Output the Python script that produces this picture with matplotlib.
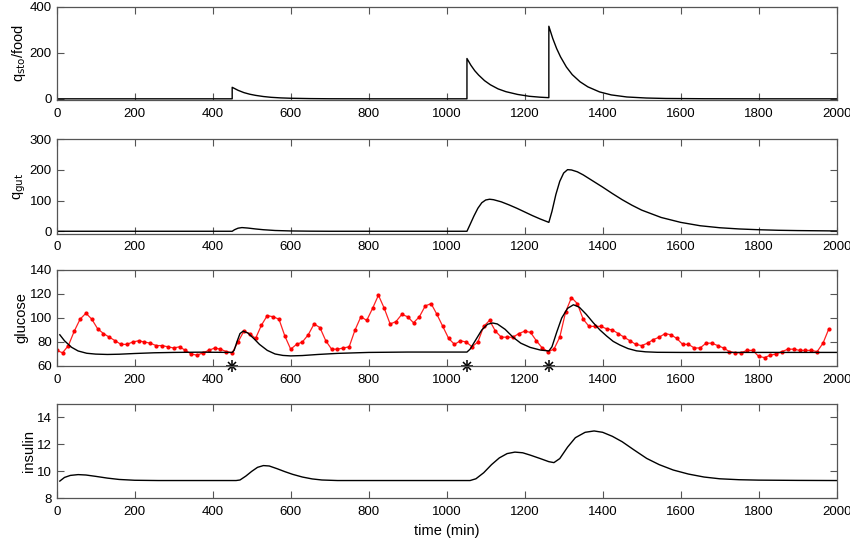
import matplotlib
matplotlib.use("Agg")
import matplotlib.pyplot as plt
import numpy as np

plt.rcParams['font.family'] = ['Liberation Sans', 'DejaVu Sans']

# meal times (min)
meals = [450, 1052, 1262]

# stomach content / food
sto_t = [0, 450, 450, 465, 480, 495, 510, 530, 550, 575, 600, 650, 700, 800,
         1052, 1052, 1062, 1072, 1082, 1097, 1112, 1132, 1152, 1182, 1212, 1240,
         1262, 1262, 1272, 1282, 1292, 1307, 1322, 1342, 1362, 1392, 1422, 1462,
         1512, 1562, 1662, 1800, 2000]
sto_v = [0, 0, 50, 37, 27, 20, 15, 10, 6.5, 4, 2.5, 1, 0.3, 0,
         0, 175, 146, 122, 103, 79, 61, 43, 31, 19, 11, 7,
         5, 315, 262, 218, 182, 138, 105, 74, 52, 30, 17, 8,
         3.5, 1.5, 0.4, 0, 0]

# gut content
gut_t = [0, 450, 456, 465, 475, 490, 510, 530, 560, 600, 650, 700,
         1052, 1060, 1070, 1080, 1090, 1100, 1110, 1120, 1140, 1160, 1180, 1200,
         1220, 1240, 1262, 1270, 1280, 1290, 1300, 1310, 1320, 1335, 1350, 1375,
         1400, 1425, 1450, 1475, 1500, 1550, 1600, 1650, 1700, 1750, 1800, 1850,
         1900, 2000]
gut_v = [0, 0, 5, 10, 12, 10.5, 7.5, 5, 2.5, 1, 0.3, 0,
         0, 22, 50, 75, 93, 102, 104.5, 103, 96, 86, 75, 63,
         51, 40, 29, 65, 120, 163, 190, 201, 200, 194, 184, 164,
         144, 123, 103, 85, 69, 45, 29, 18, 11.5, 7.5, 5, 3.2,
         2.2, 1]

# measured glucose, every 15 min
glu_meas_t = np.arange(0, 1981, 15)
glu_meas = [73, 71, 77, 89, 99, 104, 99, 91, 87, 84,
            81, 78, 78, 80, 81, 80, 79, 77, 77, 76,
            75, 76, 73, 70, 69, 71, 73, 75, 74, 72,
            71, 80, 89, 87, 83, 94, 102, 101, 99, 85,
            74, 78, 80, 86, 95, 92, 81, 74, 74, 75,
            76, 90, 101, 98, 108, 119, 108, 95, 97, 103,
            101, 96, 101, 110, 112, 103, 93, 83, 78, 81,
            80, 76, 80, 93, 98, 89, 84, 84, 84, 87,
            89, 88, 81, 75, 72, 74, 84, 105, 117, 112,
            99, 93, 93, 93, 91, 90, 87, 84, 81, 78,
            77, 79, 82, 84, 87, 86, 83, 78, 78, 75,
            75, 79, 79, 77, 75, 72, 71, 71, 73, 73,
            68, 67, 69, 70, 72, 74, 74, 73, 73, 73,
            72, 79, 91]

# model glucose
glu_t = [8, 20, 38, 55, 77, 100, 130, 160, 200, 250, 300, 367, 450, 455, 462,
         470, 478, 490, 505, 520, 540, 560, 580, 600, 630, 670, 720, 800, 900,
         1052, 1060, 1075, 1090, 1105, 1118, 1130, 1150, 1170, 1190, 1214, 1240,
         1262, 1270, 1282, 1295, 1310, 1325, 1340, 1358, 1376, 1393, 1410, 1427,
         1444, 1465, 1487, 1510, 1540, 1600, 2000]
glu_v = [86, 81, 75.6, 72.5, 70.6, 69.9, 69.6, 69.8, 70.4, 71, 71.3, 71.5, 71.3, 73, 80,
         87, 89, 87.5, 83, 78, 73, 70, 68.8, 68.4, 68.7, 69.6, 70.5, 71.3, 71.6,
         71.6, 74, 82, 90, 94.8, 95.8, 95, 90.5, 84, 79, 75.5, 73.3,
         72.5, 76, 88, 100, 108, 111, 109, 103, 96, 90, 85, 80.5,
         77.5, 74.5, 72.6, 71.8, 71.4, 71.3, 71.3]

# model insulin
ins_t = [8, 20, 35, 55, 75, 100, 130, 160, 200, 260, 460, 470, 485, 500, 515,
         530, 545, 565, 585, 605, 630, 655, 680, 720, 1060, 1075, 1095, 1115,
         1135, 1155, 1175, 1195, 1215, 1240, 1262, 1275, 1290, 1310, 1330, 1355,
         1378, 1400, 1425, 1450, 1480, 1513, 1545, 1581, 1620, 1660, 1700, 1750,
         1800, 1900, 2000]
ins_v = [9.28, 9.55, 9.7, 9.76, 9.73, 9.63, 9.5, 9.4, 9.34, 9.32, 9.32, 9.36, 9.65, 10.0, 10.3,
         10.43, 10.4, 10.2, 9.98, 9.78, 9.58, 9.44, 9.36, 9.32, 9.32, 9.45, 9.9, 10.5,
         11.0, 11.32, 11.43, 11.38, 11.2, 10.95, 10.72, 10.65, 10.95, 11.8, 12.5, 12.9,
         13.0, 12.9, 12.6, 12.2, 11.6, 10.96, 10.5, 10.1, 9.8, 9.58, 9.45, 9.38,
         9.35, 9.33, 9.32]

fig = plt.figure(figsize=(8.5, 5.41), dpi=100)
L, W = 0.0667, 0.9176
ax1 = fig.add_axes([L, 0.8152, W, 0.1725])
ax2 = fig.add_axes([L, 0.5680, W, 0.1745])
ax3 = fig.add_axes([L, 0.3235, W, 0.1775])
ax4 = fig.add_axes([L, 0.0789, W, 0.1743])

ax1.plot(sto_t, sto_v, 'k', lw=1)
ax1.set_ylim(-5, 400)
ax1.set_yticks([0, 200, 400])
ax1.set_ylabel('q$_{\\rm sto}$/food', fontsize=10.5, labelpad=1)

ax2.plot(gut_t, gut_v, 'k', lw=1)
ax2.set_ylim(-8, 300)
ax2.set_yticks([0, 100, 200, 300])
ax2.set_ylabel('q$_{\\rm gut}$', fontsize=10.5, labelpad=1)

ax3.plot(glu_meas_t, glu_meas, '-', color='#ff2020', lw=0.9,
         marker='.', ms=4, mfc='red', mec='red')
ax3.plot(glu_t, glu_v, 'k', lw=1)
ax3.plot(meals, [60] * 3, '+', color='k', ms=8, mew=1.1, clip_on=False)
ax3.plot(meals, [60] * 3, 'x', color='k', ms=6, mew=1.1, clip_on=False)
ax3.set_ylim(60, 140)
ax3.set_yticks([60, 80, 100, 120, 140])
ax3.set_ylabel('glucose', fontsize=10.5, labelpad=1)

ax4.plot(ins_t, ins_v, 'k', lw=1)
ax4.set_ylim(8, 15)
ax4.set_yticks([8, 10, 12, 14])
ax4.set_ylabel('insulin', fontsize=10.5, labelpad=1)
ax4.set_xlabel('time (min)', fontsize=10.5)

for ax in [ax1, ax2, ax3, ax4]:
    ax.set_xlim(0, 2000)
    ax.set_xticks(range(0, 2001, 200))
    ax.tick_params(direction='in', top=True, right=True, length=5,
                   color='#555555', labelsize=9.5)
    ax.tick_params(axis='x', pad=5.5)
    for s in ax.spines.values():
        s.set_color('#555555')
        s.set_linewidth(0.9)

fig.savefig('out.png', dpi=100)
